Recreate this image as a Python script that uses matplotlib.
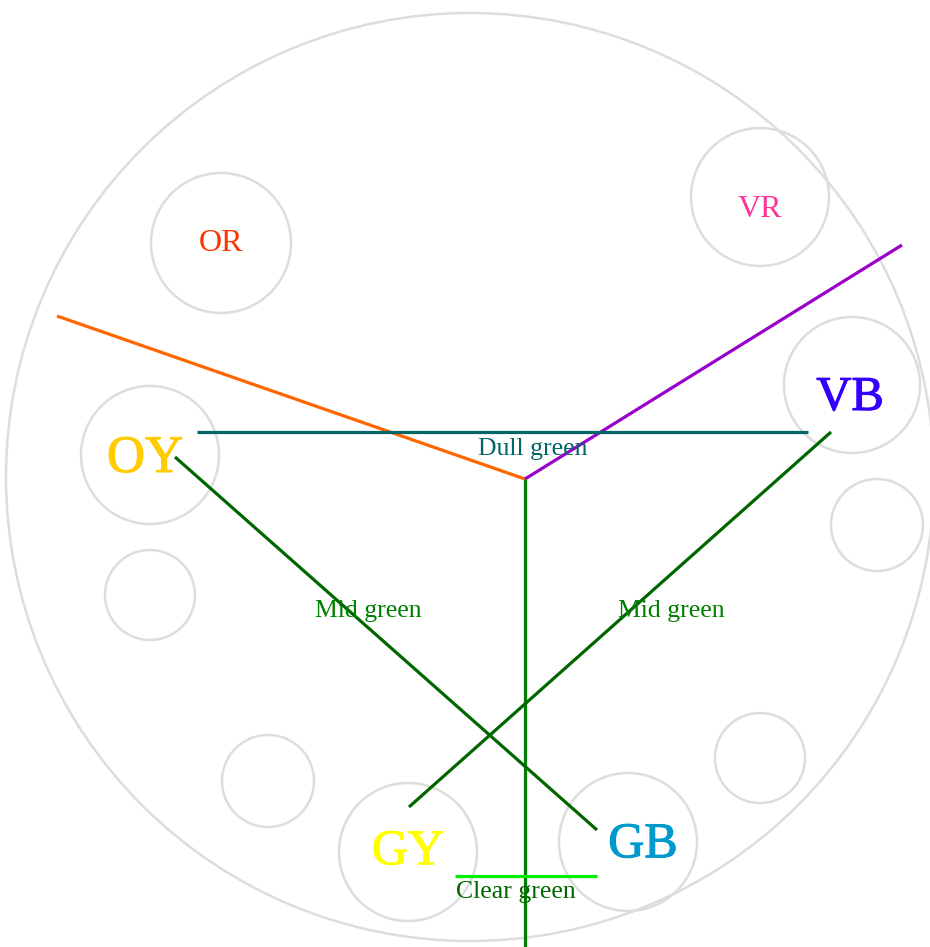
import matplotlib
matplotlib.use("Agg")
import matplotlib.pyplot as plt
import matplotlib.patheffects as pe
from matplotlib.patches import Circle, Rectangle

# colour-wheel diagram, coordinates in pixels of the original picture
wheel_center = (470, 477)
wheel_radius = 464

# small circles: centre x, centre y, radius
ring_x = [221, 760, 852, 150, 877, 150, 268, 760, 408, 628]
ring_y = [243, 197, 385, 455, 525, 595, 781, 758, 852, 842]
ring_r = [70, 69, 68, 69, 46, 45, 46, 45, 69, 69]

# hue labels
hue_names = ["OR", "VR", "VB", "OY", "GY", "GB"]
hue_x = [221, 760, 850, 145, 408, 643]
hue_y = [243, 209, 398, 459, 852, 845]
hue_size = [23, 23, 35, 38, 36, 36]
hue_colors = ["#ff3300", "#ff3399", "#3300ff", "#ffcc00", "#ffff00", "#0099cc"]

# connecting lines: x pairs, y pairs
seg_x = [[57, 525], [525, 902], [525, 525], [197, 808], [175, 597], [831, 409], [455, 597]]
seg_y = [[316, 479], [479, 245], [479, 947], [432, 432], [457, 830], [432, 807], [876, 876]]
seg_colors = ["#ff6600", "#9900cc", "#008000", "#006666", "#006600", "#006600", "#00ee00"]

# line labels
line_names = ["Dull green", "Mid green", "Mid green", "Clear green"]
line_x = [533, 368, 671, 516]
line_y = [449, 611, 611, 892]
line_colors = ["#006666", "#008000", "#008000", "#006600"]

fig = plt.figure(figsize=(9.3, 9.47), dpi=100)
ax = fig.add_axes([0, 0, 1, 1])
ax.set_xlim(0, 930)
ax.set_ylim(947, 0)
ax.axis("off")

ax.add_patch(Circle(wheel_center, wheel_radius, fill=False, ec="#dddddd", lw=1.8))
for cx, cy, r in zip(ring_x, ring_y, ring_r):
    ax.add_patch(Circle((cx, cy), r, fill=False, ec="#dddddd", lw=1.8))

for xs, ys, c in zip(seg_x, seg_y, seg_colors):
    ax.plot(xs, ys, color=c, lw=2.3, solid_capstyle="butt")

for name, x, y, s, c in zip(hue_names, hue_x, hue_y, hue_size, hue_colors):
    t = ax.text(x, y, name, color=c, fontsize=s, family="Liberation Serif",
                ha="center", va="center")
    # the big labels look a bit heavier in the original
    if s > 30:
        t.set_path_effects([pe.withStroke(linewidth=0.8, foreground=c)])

# right "Mid green" is cut off at x=722
clip = Rectangle((0, 0), 722, 947, transform=ax.transData, visible=False)
ax.add_patch(clip)
for i, (name, x, y, c) in enumerate(zip(line_names, line_x, line_y, line_colors)):
    t = ax.text(x, y, name, color=c, fontsize=18.5, family="Liberation Serif",
                ha="center", va="center")
    if i == 2:
        t.set_clip_path(clip)

fig.savefig("out.png", dpi=100)
